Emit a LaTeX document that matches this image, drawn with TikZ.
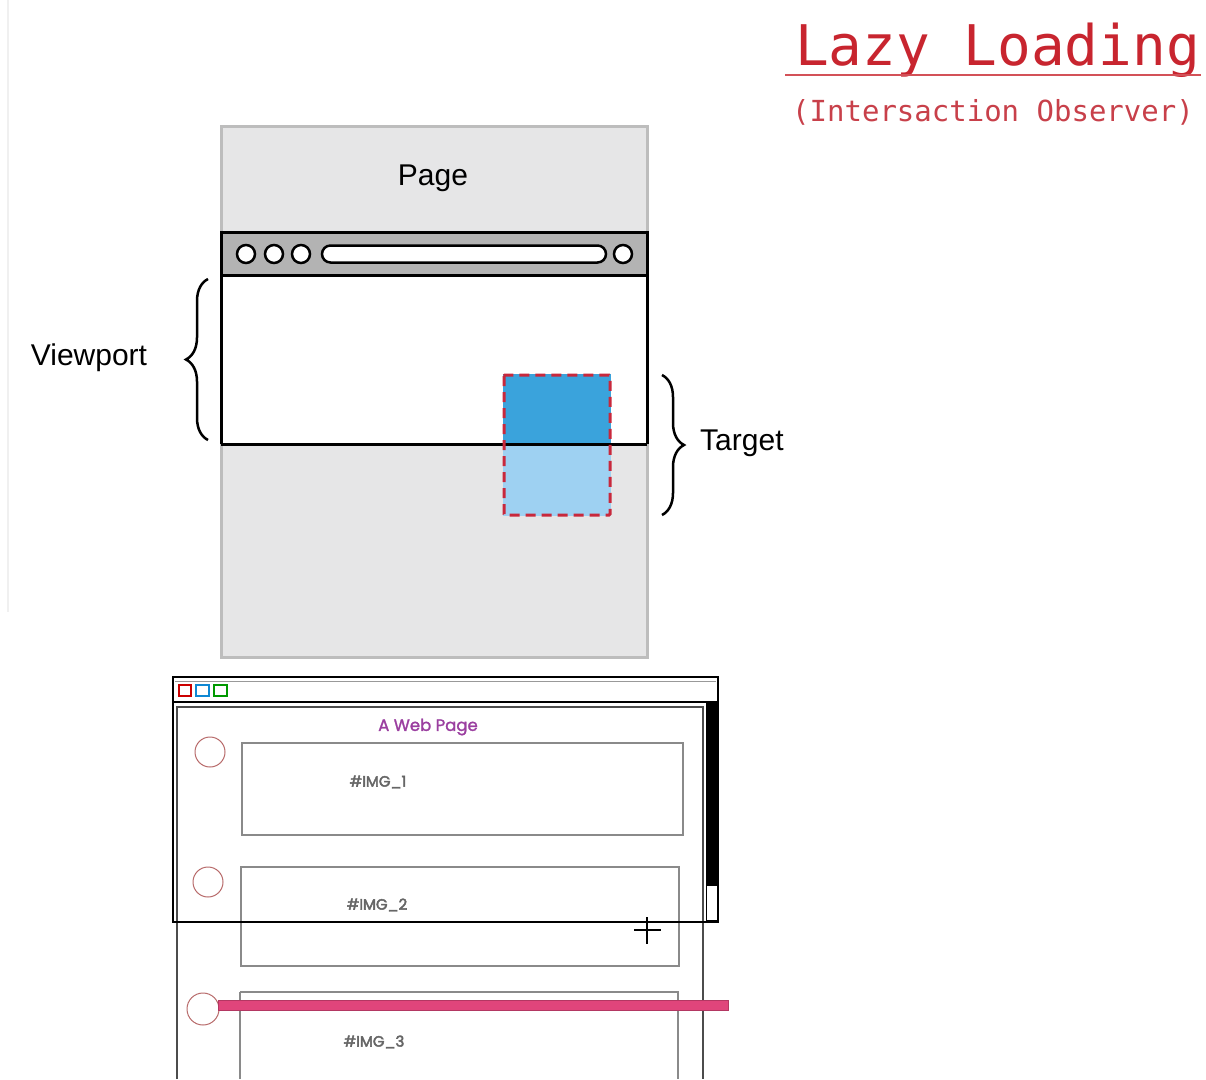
\documentclass[tikz,border=0pt]{standalone}
\usepackage{fontspec}
\setmainfont{Liberation Sans}
\newfontfamily\monofont{DejaVu Sans Mono}
\newfontfamily\geofont{Poppins}[FakeBold=1.5]
\newfontfamily\geolblfont{Poppins}[FakeBold=3]
\usetikzlibrary{decorations.pathreplacing}
\definecolor{titlered}{HTML}{C8252F}
\definecolor{subred}{HTML}{C8404A}
\definecolor{pagegray}{HTML}{E6E6E7}
\definecolor{pageedge}{HTML}{BDBDBD}
\definecolor{barGray}{HTML}{B3B3B3}
\definecolor{tgtdark}{HTML}{3AA3DC}
\definecolor{tgtlight}{HTML}{9ED1F2}
\definecolor{tgtedge}{HTML}{C8283C}
\definecolor{webpurple}{HTML}{9B3FA0}
\definecolor{imgedge}{HTML}{8A8A8A}
\definecolor{imgtext}{HTML}{666666}
\definecolor{ringred}{HTML}{B86A6A}
\definecolor{markpink}{HTML}{E0457B}
\tikzset{
  lbl/.style={font=\fontsize{30}{34}\selectfont, inner sep=0pt},
  bracestyle/.style={decorate, decoration={brace, amplitude=22pt}, line width=2.5pt},
  knob/.style={draw=black, line width=2.5pt, fill=white},
  imgbox/.style={draw=imgedge, line width=2pt},
  imglbl/.style={font=\geolblfont\fontsize{15}{17}\selectfont, text=imgtext, inner sep=0pt},
  ring/.style={draw=ringred, line width=1pt},
  winsq/.style={line width=1.6pt},
}
\begin{document}
\begin{tikzpicture}[x=1pt, y=-1pt]
\useasboundingbox (0,0) rectangle (1206,1079);
\fill[white] (0,0) rectangle (1206,1079);
\draw[black!6, line width=2pt] (8,0) -- (8,612);

% heading
\node[anchor=base west, inner sep=0pt, text=titlered, font=\monofont\fontsize{56}{60}\selectfont] (title) at (795,65) {Lazy Loading};
\draw[titlered!80, line width=1.2pt] (785,75) -- (1201,75);
\node[anchor=base west, inner sep=0pt, text=subred, font=\monofont\fontsize{29}{32}\selectfont] (subtitle) at (792,121) {(Intersaction Observer)};

% page
\draw[fill=pagegray, draw=pageedge, line width=3pt] (221,126) rectangle (647,657);
\node[lbl] (page) at (433,178) {Page};

% browser toolbar
\draw[fill=barGray, line width=3pt] (221,232) rectangle (647,275);
\draw[knob] (246,254) circle (9);
\draw[knob] (274,254) circle (9);
\draw[knob] (301,254) circle (9);
\draw[knob, rounded corners=8.5pt] (322,245.5) rectangle (606,262.5);
\draw[knob] (623,254) circle (9);

% viewport
\fill[white] (221,275) rectangle (647,444);
\draw[line width=3pt] (221,444) -- (221,275) -- (647,275) -- (647,444);

% target element
\fill[tgtdark] (503,374) rectangle (611,444);
\fill[tgtlight] (503,444) rectangle (611,516);
\draw[line width=3pt] (221,444) -- (647,444);
\draw[tgtedge, line width=3pt, dash pattern=on 10pt off 6pt, rounded corners=1pt] (504,375) rectangle (610,515);

% braces and their labels
\coordinate (vpA) at (208,440);
\coordinate (vpB) at (208,279);
\draw[bracestyle] (vpA) -- (vpB);
\node[lbl, anchor=center] (viewport) at (89,358) {Viewport};
\coordinate (tgA) at (662,375);
\coordinate (tgB) at (662,515);
\draw[bracestyle] (tgA) -- (tgB);
\node[lbl, anchor=west] (target) at (700,443) {Target};

% lower sketch: page content
\draw[black!70, line width=1.2pt] (177,1079) -- (177,707) -- (703,707) -- (703,1079);
\node[font=\geofont\fontsize{16.5}{18}\selectfont, text=webpurple, inner sep=0pt] (webpage) at (428,727) {A Web Page};

\draw[imgbox] (242,743) rectangle (683,835);
\node[imglbl] (img1) at (378,782) {\#IMG\_1};
\draw[ring] (210,752) circle (15);

\draw[imgbox] (241,867) rectangle (679,966);
\node[imglbl] (img2) at (377,905) {\#IMG\_2};
\draw[ring] (208,882) circle (15);

\draw[imgbox] (240,992) -- (240,1079) (240,992) -- (678,992) -- (678,1079);
\node[imglbl] (img3) at (374,1042) {\#IMG\_3};
\draw[ring] (203,1009) circle (16);

% threshold marker
\draw[fill=markpink, draw=markpink!80!black, line width=0.6pt] (218,1000) rectangle (728,1010);

% window frame
\draw[line width=2.5pt] (173,677) rectangle (718,922);
\draw[line width=2pt] (173,702) -- (718,702);
\draw[black!40, line width=0.6pt] (175,681) -- (716,681);
\draw[winsq, draw=red!80!black] (179,685) rectangle (191,696);
\draw[winsq, draw=cyan!70!blue] (196,685) rectangle (209,696);
\draw[winsq, draw=green!60!black] (214,685) rectangle (227,696);
\fill[black] (706,702) rectangle (717,885);
\draw[line width=1pt, fill=white] (706,885) rectangle (717,920);

% pointer
\draw[line width=1.8pt] (634,930) -- (661,930) (647,917) -- (647,944);
\end{tikzpicture}
\end{document}
